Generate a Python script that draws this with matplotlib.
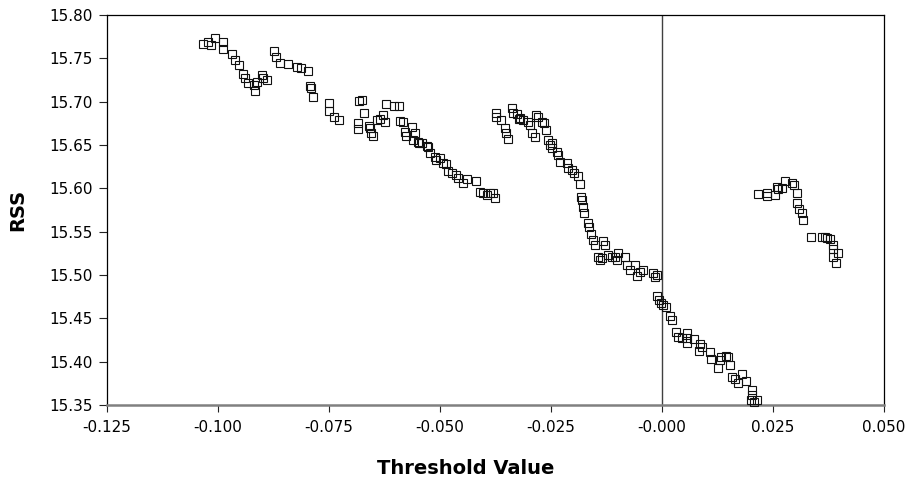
import matplotlib
matplotlib.use("Agg")
import matplotlib.pyplot as plt
from matplotlib.ticker import FuncFormatter

plt.rcParams['font.family'] = ['DejaVu Sans']

# Threshold values and residual sum of squares for each candidate split
threshold = [
    -0.1034, -0.1023, -0.1016, -0.1007, -0.0989, -0.0989, -0.0968, -0.0962,
    -0.0953, -0.0944, -0.0939, -0.0932, -0.0919, -0.0917, -0.0912, -0.0901,
    -0.0899, -0.0890, -0.0874, -0.0869, -0.0860, -0.0842, -0.0822, -0.0813,
    -0.0797, -0.0793, -0.0791, -0.0786,
    -0.0750, -0.0750, -0.0739, -0.0727,
    -0.0682, -0.0676, -0.0671, -0.0685, -0.0684, -0.0660, -0.0657, -0.0655,
    -0.0651, -0.0642, -0.0635, -0.0628, -0.0624, -0.0622, -0.0604, -0.0592,
    -0.0590, -0.0583, -0.0579, -0.0577, -0.0564, -0.0561, -0.0556, -0.0550,
    -0.0547, -0.0540, -0.0529, -0.0527, -0.0523, -0.0511, -0.0509, -0.0500,
    -0.0493, -0.0486, -0.0482, -0.0473, -0.0464, -0.0459, -0.0448, -0.0439,
    -0.0419, -0.0410, -0.0403, -0.0394, -0.0387, -0.0381, -0.0376,
    -0.0374, -0.0374, -0.0363, -0.0354, -0.0351, -0.0347, -0.0338, -0.0336,
    -0.0327, -0.0322, -0.0320, -0.0313, -0.0302, -0.0297, -0.0293, -0.0286,
    -0.0284, -0.0279, -0.0270, -0.0266, -0.0261, -0.0257, -0.0252, -0.0248,
    -0.0248, -0.0236, -0.0234, -0.0230, -0.0214, -0.0212, -0.0203, -0.0198,
    -0.0189, -0.0185, -0.0182, -0.0180, -0.0178, -0.0176, -0.0167, -0.0164,
    -0.0160, -0.0155, -0.0151, -0.0133, -0.0128, -0.0144, -0.0140, -0.0135,
    -0.0122, -0.0113, -0.0106, -0.0101, -0.0099, -0.0083, -0.0079, -0.0072,
    -0.0061, -0.0056, -0.0050, -0.0043, -0.0020, -0.0016, -0.0011,
    -0.0011, -0.0007, -0.0002, 0.0002, 0.0009, 0.0018, 0.0023, 0.0032,
    0.0036, 0.0045, 0.0056, 0.0056, 0.0056, 0.0072, 0.0086, 0.0083,
    0.0090, 0.0108, 0.0110, 0.0126, 0.0130, 0.0133, 0.0144, 0.0149,
    0.0153, 0.0158, 0.0164, 0.0171, 0.0180, 0.0189, 0.0203, 0.0203,
    0.0200, 0.0207, 0.0214,
    0.0216, 0.0236, 0.0236, 0.0255, 0.0259, 0.0261, 0.0270, 0.0277,
    0.0293, 0.0297, 0.0304, 0.0304, 0.0309, 0.0315, 0.0318, 0.0336,
    0.0360, 0.0367, 0.0372, 0.0378, 0.0385, 0.0385, 0.0396, 0.0385,
    0.0392,
]
rss = [
    15.7665, 15.769, 15.765, 15.773, 15.769, 15.761, 15.755, 15.748,
    15.742, 15.732, 15.727, 15.721, 15.719, 15.712, 15.723, 15.731,
    15.727, 15.725, 15.758, 15.752, 15.745, 15.743, 15.740, 15.739,
    15.735, 15.718, 15.716, 15.705,
    15.698, 15.689, 15.682, 15.679,
    15.701, 15.702, 15.687, 15.675, 15.668, 15.672, 15.670, 15.664,
    15.660, 15.679, 15.680, 15.685, 15.677, 15.697, 15.695, 15.695,
    15.678, 15.677, 15.665, 15.660, 15.671, 15.656, 15.664, 15.653,
    15.652, 15.652, 15.649, 15.648, 15.641, 15.636, 15.633, 15.635,
    15.629, 15.628, 15.620, 15.618, 15.615, 15.612, 15.606, 15.611,
    15.608, 15.596, 15.595, 15.592, 15.595, 15.595, 15.589,
    15.687, 15.682, 15.679, 15.670, 15.664, 15.657, 15.693, 15.687,
    15.686, 15.680, 15.681, 15.679, 15.677, 15.673, 15.664, 15.659,
    15.685, 15.682, 15.677, 15.675, 15.667, 15.656, 15.650, 15.652,
    15.646, 15.642, 15.638, 15.630, 15.629, 15.623, 15.621, 15.618,
    15.614, 15.605, 15.590, 15.587, 15.578, 15.572, 15.560, 15.555,
    15.547, 15.540, 15.535, 15.539, 15.535, 15.521, 15.517, 15.520,
    15.523, 15.521, 15.521, 15.517, 15.525, 15.521, 15.511, 15.506,
    15.511, 15.499, 15.503, 15.506, 15.502, 15.498, 15.500,
    15.476, 15.471, 15.468, 15.465, 15.463, 15.453, 15.448, 15.434,
    15.428, 15.427, 15.433, 15.427, 15.422, 15.426, 15.420, 15.412,
    15.417, 15.411, 15.403, 15.393, 15.402, 15.405, 15.407, 15.405,
    15.396, 15.382, 15.380, 15.375, 15.386, 15.378, 15.367, 15.362,
    15.356, 15.354, 15.356,
    15.593, 15.595, 15.591, 15.592, 15.601, 15.599, 15.600, 15.608,
    15.606, 15.604, 15.595, 15.583, 15.576, 15.571, 15.563, 15.544,
    15.544, 15.544, 15.543, 15.541, 15.535, 15.530, 15.525, 15.521,
    15.514,
]

x_ticks = [-0.125, -0.100, -0.075, -0.050, -0.025, 0.000, 0.025, 0.050]
y_ticks = [15.35, 15.40, 15.45, 15.50, 15.55, 15.60, 15.65, 15.70, 15.75, 15.80]

fig = plt.figure(figsize=(9.14, 4.83), dpi=100)
ax = fig.add_axes([107 / 914, 1 - 405 / 483, (884 - 107) / 914, (405 - 15) / 483])

ax.axvline(0.0, color='#404040', lw=1.0, zorder=1)
ax.plot(threshold, rss, linestyle='none', marker='s', markersize=6,
        markerfacecolor='none', markeredgecolor='#111111',
        markeredgewidth=0.8, zorder=3, clip_on=False)

ax.set_xlim(x_ticks[0], x_ticks[-1])
ax.set_ylim(y_ticks[0], y_ticks[-1])
ax.set_xticks(x_ticks)
ax.set_yticks(y_ticks)

def fmt_x(v, pos):
    if abs(v) < 1e-12:
        return "-0.000"
    return f"{v:.3f}"

ax.xaxis.set_major_formatter(FuncFormatter(fmt_x))
ax.yaxis.set_major_formatter(FuncFormatter(lambda v, p: f"{v:.2f}"))

ax.tick_params(axis='both', direction='out', width=0.8,
               color='#222222', labelsize=11, labelcolor='black')
ax.tick_params(axis='x', length=5, pad=5.5)
ax.tick_params(axis='y', length=6, pad=4)

for side in ('top', 'right', 'left'):
    ax.spines[side].set_color('black')
    ax.spines[side].set_linewidth(0.9)
ax.spines['bottom'].set_color('#808080')
ax.spines['bottom'].set_linewidth(1.8)

ax.set_xlabel('Threshold Value', fontsize=14, fontweight='bold')
ax.xaxis.set_label_coords(0.461, -0.138)
ax.set_ylabel('RSS', fontsize=14, fontweight='bold', labelpad=16)

fig.savefig('out.png', dpi=100, facecolor='white')
